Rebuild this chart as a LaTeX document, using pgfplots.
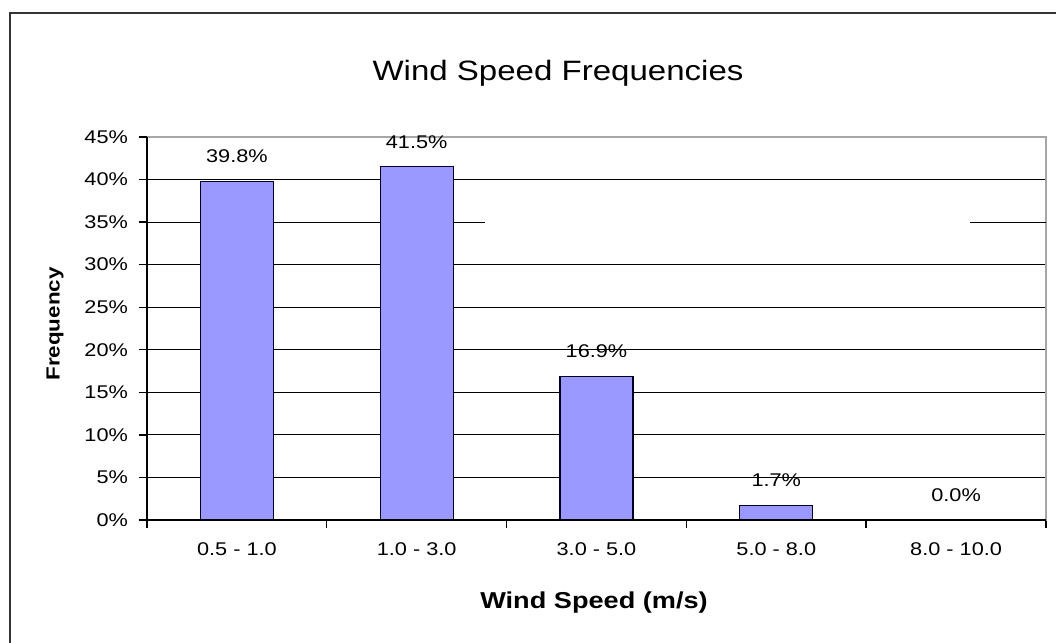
\documentclass[border=0pt]{standalone}
\usepackage{fontspec}
\setmainfont{Liberation Sans}[FakeStretch=1.18]
\usepackage{pgfplots}
\pgfplotsset{compat=1.18}
\definecolor{barblue}{HTML}{9999FF}
\definecolor{frameedge}{HTML}{333333}

\pgfplotstableread{
x  freq
0  39.8
1  41.5
2  16.9
3  1.7
4  0.0
}\windtable

\begin{document}
\begin{tikzpicture}
\path[use as bounding box] (0,0) rectangle (528pt,321.5pt);
% outer chart frame (runs off the right and bottom edge)
\draw[frameedge, line width=1pt] (5pt,-10pt) -- (5pt,315pt) -- (540pt,315pt) -- (540pt,-10pt);
\node[font=\fontsize{14}{16}\selectfont] at (279pt,285pt) {Wind Speed Frequencies};
\begin{axis}[
    at={(73.5pt,61.5pt)}, anchor=south west,
    scale only axis,
    width=449.5pt, height=191.5pt,
    xmin=-0.5, xmax=4.5,
    ymin=0, ymax=45,
    ybar, bar width=36.5pt,
    axis line style={draw=gray!70, line width=0.6pt},
    xtick={0,...,4},
    xticklabels={0.5 - 1.0, 1.0 - 3.0, 3.0 - 5.0, 5.0 - 8.0, 8.0 - 10.0},
    major x tick style={draw=none},
    minor xtick={-0.5,0.5,...,4.5},
    minor x tick style={black, line width=0.7pt},
    minor tick length=4pt,
    ytick={0,5,...,30,40},
    extra y ticks={35,45},
    extra y tick style={grid=none},
    ymajorgrids,
    major grid style={black, line width=0.5pt},
    y tick style={black, line width=0.7pt},
    major tick length=4pt,
    tick align=outside, tick pos=left,
    /pgf/number format/assume math mode=true,
    yticklabel={\pgfmathprintnumber{\tick}\%},
    ticklabel style={font=\fontsize{9.2}{10.5}\selectfont},
    xticklabel style={yshift=-4pt},
    yticklabel style={xshift=-2pt},
    nodes near coords={\pgfmathprintnumber[fixed,fixed zerofill,precision=1]{\pgfplotspointmeta}\%},
    nodes near coords style={font=\fontsize{9.2}{10.5}\selectfont, anchor=center, yshift=12.5pt},
    clip=false,
]
% partial 35% grid line, as in the reference
\draw[black, line width=0.5pt] (axis cs:-0.5,35) -- (axis cs:1.38,35);
\draw[black, line width=0.5pt] (axis cs:4.08,35) -- (axis cs:4.5,35);
\addplot[fill=barblue, draw=black!85!blue, line width=0.6pt] table[x=x, y=freq] {\windtable};
% black left and bottom axis lines
\draw[black, line width=0.6pt] (rel axis cs:0,1) -- (rel axis cs:0,0) -- (rel axis cs:1,0);
\end{axis}
\node[font=\bfseries\fontsize{11.5}{13}\selectfont] at (297pt,20pt) {Wind Speed (m/s)};
\node[font=\bfseries\fontsize{9.5}{11}\selectfont, rotate=90] at (27.5pt,159.5pt) {Frequency};
\end{tikzpicture}
\end{document}
